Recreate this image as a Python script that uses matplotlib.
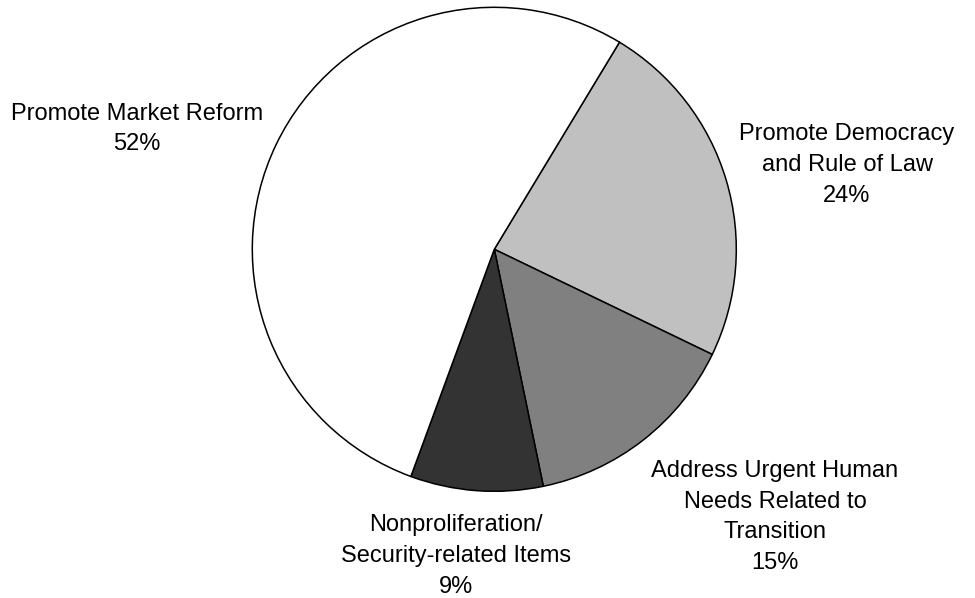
import matplotlib
matplotlib.use('Agg')
from matplotlib import pyplot

# 
# data (slice sizes, printed percentages as labelled)
# 
categories = ['Promote Democracy\nand Rule of Law',
              'Address Urgent Human\nNeeds Related to\nTransition',
              'Nonproliferation/\nSecurity-related Items',
              'Promote Market Reform']
shares = [23.5, 14.6, 8.85, 53.05]
pct_labels = [24, 15, 9, 52]
colors = ['#c0c0c0', '#808080', '#333333', '#ffffff']

# label centres in pixels (x, y from top)
label_pos = [(847, 165), (775, 517), (456, 556), (137, 129)]

W, H = 975, 598
cx, cy, r = 494.3, 249.3, 242.0
fig = pyplot.figure(figsize=(W/100., H/100.), dpi=100)
ax = fig.add_axes([(cx-r)/W, (H-cy-r)/H, 2*r/W, 2*r/H])
ax.pie(shares, colors=colors, startangle=58.85, counterclock=False, radius=1.0,
       wedgeprops={'edgecolor': 'black', 'linewidth': 1.1})
ax.set_xlim(-1.0, 1.0)
ax.set_ylim(-1.0, 1.0)
ax.set_aspect('equal')
ax.axis('off')

font = {'family': 'Liberation Sans', 'size': 17}
for name, v, (px, py) in zip(categories, pct_labels, label_pos):
    fig.text(px/W, 1.0-py/H, '%s\n%d%%'%(name, v), fontdict=font,
             ha='center', va='center', multialignment='center', linespacing=1.52)

fig.savefig('out.png', dpi=100)
